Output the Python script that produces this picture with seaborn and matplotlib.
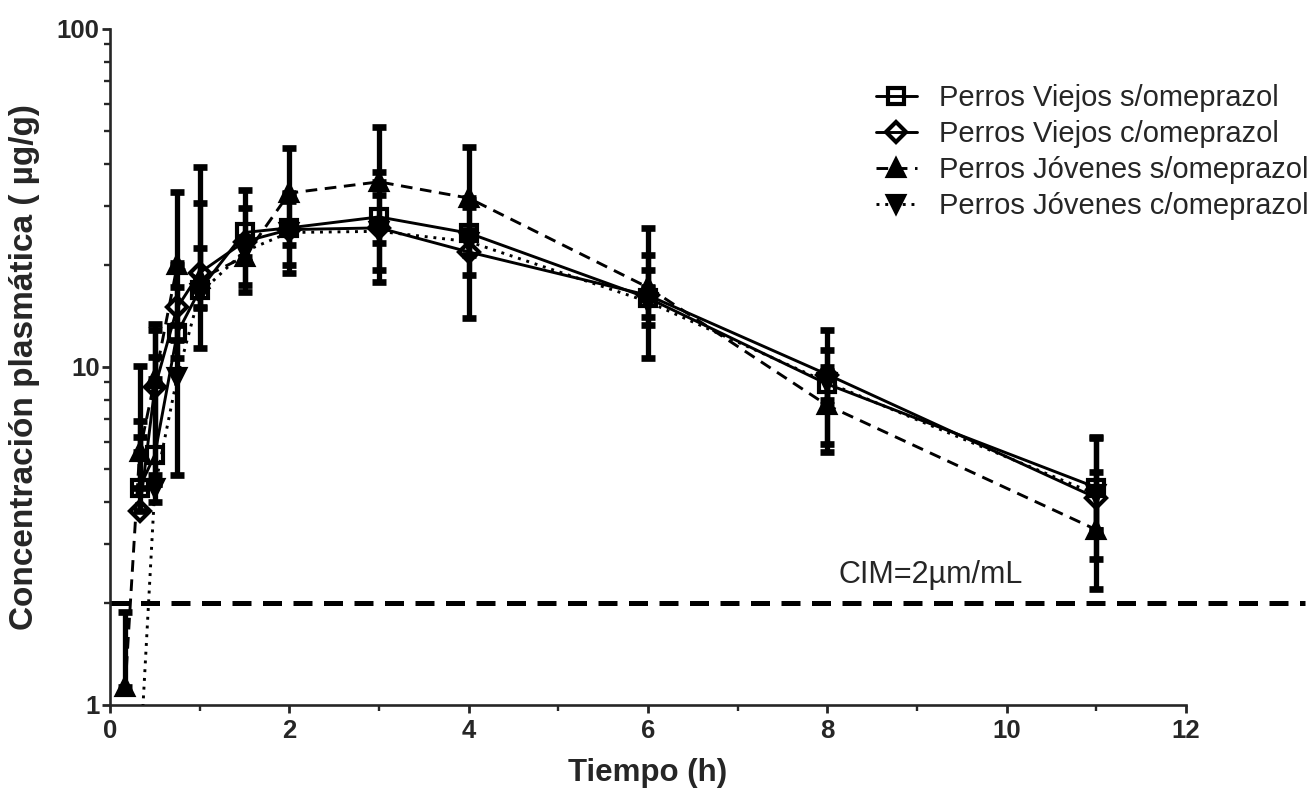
import numpy as np
import pandas as pd
import matplotlib
matplotlib.use("Agg")
import matplotlib.pyplot as plt
import seaborn as sns
from matplotlib.ticker import LogLocator, NullFormatter, FixedLocator

# Sampling times (h)
times = [0.17, 0.33, 0.5, 0.75, 1, 1.5, 2, 3, 4, 6, 8, 11]

groups = [
    "Perros Viejos s/omeprazol",
    "Perros Viejos c/omeprazol",
    "Perros Jóvenes s/omeprazol",
    "Perros Jóvenes c/omeprazol",
]

# Mean plasma concentration (µg/g) per group
viejos_s = [np.nan, 4.4, 5.5, 12.6, 16.9, 25.0, 25.8, 27.8, 24.9, 16.0, 8.9, 4.4]
viejos_c = [np.nan, 3.75, 8.7, 15.0, 19.0, 23.5, 25.5, 25.8, 21.9, 16.3, 9.5, 4.1]
jovenes_s = [1.13, 5.6, 9.2, 20.0, 18.2, 21.2, 32.7, 35.3, 31.6, 17.2, 7.7, 3.3]
jovenes_c = [np.nan, 0.65, 4.4, 9.35, 16.5, 22.0, 25.0, 25.2, 23.5, 15.6, 9.0, 4.2]

# Error bar extents (below / above the mean)
viejos_s_lo = [0, 0, 1.0, 2.0, 5.5, 8.3, 6.8, 10.0, 6.2, 5.4, 3.0, 1.7]
viejos_s_hi = [0, 2.5, 5.2, 4.6, 5.6, 8.3, 6.8, 10.0, 6.2, 5.4, 2.3, 1.75]
viejos_c_lo = [0, 0, 4.2, 3.0, 4.1, 6.0, 5.5, 6.4, 7.9, 3.0, 3.9, 0.8]
viejos_c_hi = [0, 2.45, 4.2, 5.3, 11.5, 6.0, 5.5, 6.4, 7.9, 3.0, 3.4, 0.8]
jovenes_s_lo = [0, 0, 0, 0, 0, 0, 0, 0, 0, 0, 0, 0]
jovenes_s_hi = [0.75, 4.5, 4.2, 12.9, 20.8, 3.0, 11.7, 16.1, 13.1, 8.6, 2.0, 1.0]
jovenes_c_lo = [0, 0, 0.4, 4.55, 1.5, 1.5, 2.0, 2.0, 2.0, 1.5, 1.0, 2.0]
jovenes_c_hi = [0, 0, 0.4, 4.0, 1.5, 1.5, 2.0, 2.0, 2.0, 1.5, 1.0, 2.0]

cim_value = 2.0
cim_label = "CIM=2µm/mL"

sns.set_style("ticks")
plt.rcParams["font.family"] = ["Liberation Sans", "DejaVu Sans"]
plt.rcParams["axes.linewidth"] = 1.9

W, H = 1309, 789
fig = plt.figure(figsize=(W / 100, H / 100), dpi=100)
ax = fig.add_axes([110 / W, 1 - 705 / H, 1076 / W, 676 / H])

series = [
    (groups[0], viejos_s, viejos_s_lo, viejos_s_hi, "s", "none", None),
    (groups[1], viejos_c, viejos_c_lo, viejos_c_hi, "D", "none", None),
    (groups[2], jovenes_s, jovenes_s_lo, jovenes_s_hi, "^", "black", (4.0, 2.6)),
    (groups[3], jovenes_c, jovenes_c_lo, jovenes_c_hi, "v", "black", (1.0, 2.0)),
]

handles = []
for name, vals, lo, hi, mk, mfc, dash in series:
    ax.errorbar(times, vals, yerr=[lo, hi], fmt="none", ecolor="black",
                elinewidth=3.8, capsize=5.0, capthick=4.8, zorder=2)
    df = pd.DataFrame({"t": times, "c": vals})
    sns.lineplot(data=df, x="t", y="c", ax=ax, color="black", lw=2.1,
                 marker=mk, markersize=11.5 if mk != "D" else 10.5,
                 markerfacecolor=mfc, markeredgecolor="black",
                 markeredgewidth=3.0, errorbar=None, label=name, zorder=3)
    line = ax.lines[-1]
    if dash is not None:
        line.set_dashes(dash)
    handles.append(line)

ax.set_yscale("log")
ax.set_xlim(0, 12)
ax.set_ylim(1, 100)

# Minimum inhibitory concentration reference
ax.axhline(cim_value, xmin=0, xmax=(1305 - 110) / 1076, color="black",
           lw=3.6, dashes=(3.8, 2.3), clip_on=False, zorder=1)
ax.text(8.12, 2.42, cim_label, fontsize=22, va="center", ha="left")

ax.set_xticks([0, 2, 4, 6, 8, 10, 12],
              labels=["0", "2", "4", "6", "8", "10", "12"],
              fontweight="bold", fontsize=18.5)
ax.xaxis.set_minor_locator(FixedLocator([1, 3, 5, 7, 9, 11]))
ax.set_yticks([1, 10, 100], labels=["1", "10", "100"],
              fontweight="bold", fontsize=18.5)
ax.yaxis.set_minor_locator(LogLocator(base=10, subs=np.arange(2, 10)))
ax.yaxis.set_minor_formatter(NullFormatter())

ax.tick_params(which="major", length=6, width=2.0, direction="out", pad=1.5)
ax.tick_params(axis="x", which="major", pad=4)
ax.tick_params(which="minor", length=4, width=1.7, direction="out")
sns.despine(ax=ax)

ax.set_xlabel("Tiempo (h)", fontsize=22.5, fontweight="bold")
ax.set_ylabel("Concentración plasmática ( µg/g)", fontsize=24, fontweight="bold")
ax.xaxis.set_label_coords(0.5, (705 - 773) / 676)
ax.xaxis.label.set_va("center")
ax.yaxis.set_label_coords((25 - 110) / 1076, 0.5)
ax.yaxis.label.set_va("center")

ax.legend(handles=handles, labels=groups, loc="upper left",
          bbox_to_anchor=(876 / W, 1 - 84 / H), bbox_transform=fig.transFigure,
          frameon=False, fontsize=21, handlelength=1.4, handletextpad=0.75,
          labelspacing=0.28, borderpad=0, borderaxespad=0)

fig.savefig("out.png", dpi=100)
